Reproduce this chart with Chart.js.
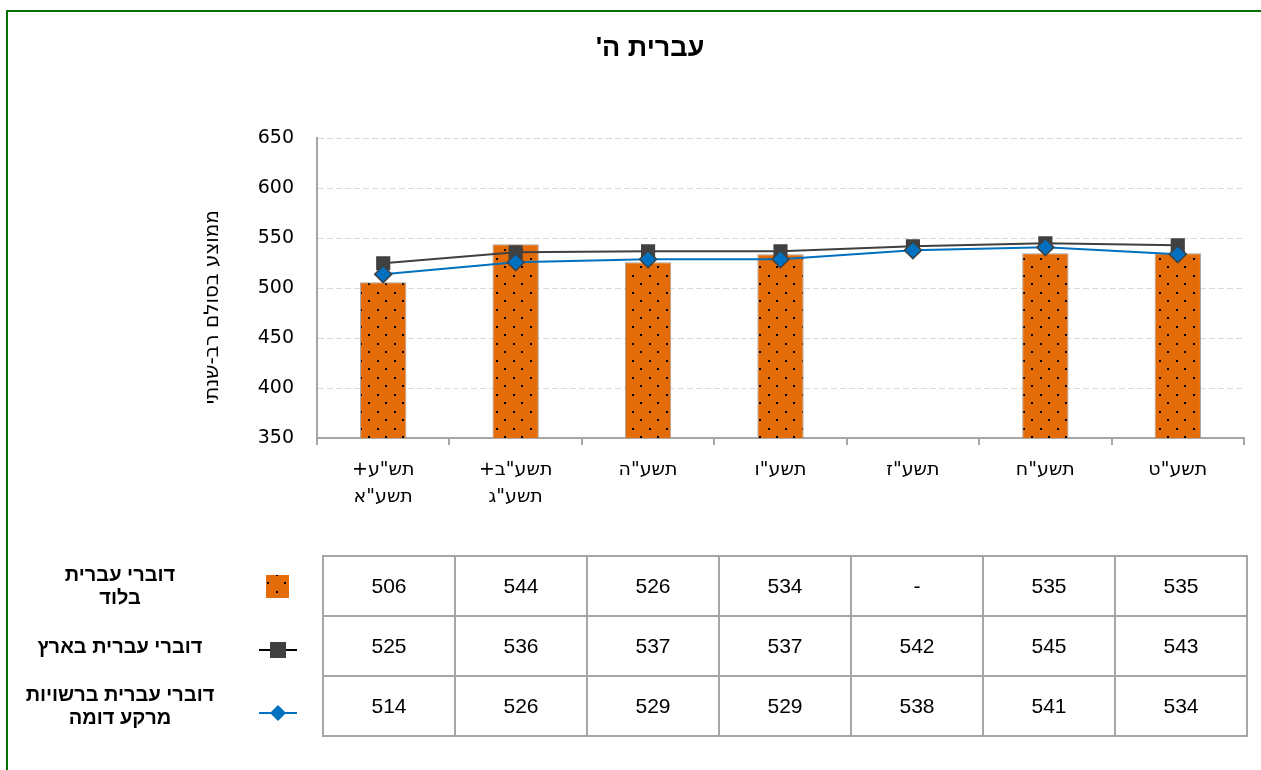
<!DOCTYPE html>
<html lang="he">
<head>
<meta charset="utf-8">
<script src="https://cdn.jsdelivr.net/npm/chart.js@4.4.1/dist/chart.umd.min.js"></script>
<style>
  html, body { margin: 0; padding: 0; background: #fff; }
  body { width: 1261px; height: 770px; overflow: hidden; position: relative; font-family: "Liberation Sans", Arial, sans-serif; }
  #chart { position: absolute; left: 0; top: 0; direction: rtl; }
  #frame { position: absolute; left: 6px; top: 10px; width: 1300px; height: 800px; border-left: 2px solid #007000; border-top: 2px solid #007000; pointer-events: none; }
  #dataTable { position: absolute; left: 322px; top: 555px; width: 926px; border-collapse: collapse; table-layout: fixed; }
  #dataTable td { height: 58px; border: 2px solid #a6a6a6; text-align: center; vertical-align: middle; font-size: 21px; padding: 0; color: #000; }
  .legendRow { position: absolute; left: 0; width: 240px; height: 60px; display: flex; align-items: center; justify-content: center; text-align: center; direction: rtl; font-weight: bold; font-size: 20px; line-height: 23px; color: #000; }
  .legendIcon { position: absolute; }
</style>
</head>
<body>
<canvas id="chart" width="1261" height="770"></canvas>
<div id="frame"></div>
<table id="dataTable"></table>
<div id="legend"></div>
<script>
// ─── DATA ────────────────────────────────────────────────────────────────
const chartTitle = "עברית ה'";
const yAxisTitle = "ממוצע בסולם רב-שנתי";
const categories = [['תש"ע+', 'תשע"א'], ['תשע"ב+', 'תשע"ג'], 'תשע"ה', 'תשע"ו', 'תשע"ז', 'תשע"ח', 'תשע"ט'];
const lodValues      = [506, 544, 526, 534, null, 535, 535];
const nationalValues = [525, 536, 537, 537, 542, 545, 543];
const similarValues  = [514, 526, 529, 529, 538, 541, 534];
const seriesLabels = [['דוברי עברית', 'בלוד'], ['דוברי עברית בארץ'], ['דוברי עברית ברשויות', 'מרקע דומה']];
const yMin = 350, yMax = 650, yStep = 50;

const ORANGE = "#e36c09";
const DARK   = "#404040";
const BLUE   = "#0070c0";

// ─── DOT PATTERN FOR BARS ────────────────────────────────────────────────
function makeDotTile() {
  const c = document.createElement("canvas");
  c.width = 17; c.height = 17;
  const g = c.getContext("2d");
  g.fillStyle = ORANGE; g.fillRect(0, 0, 17, 17);
  g.fillStyle = "#000";
  g.fillRect(3, 3, 2, 2);
  g.fillRect(11, 11, 2, 2);
  return c;
}
const canvas = document.getElementById("chart");
const ctx = canvas.getContext("2d");
const dotPattern = ctx.createPattern(makeDotTile(), "repeat");

// ─── Y TITLE (custom placement) ─────────────────────────────────────────
const yTitlePlugin = {
  id: "yTitle",
  afterDraw(chart) {
    const c = chart.ctx;
    const mid = (chart.chartArea.top + chart.chartArea.bottom) / 2;
    c.save();
    c.translate(213, mid + 19);
    c.rotate(-Math.PI / 2);
    c.font = '20px "DejaVu Sans"';
    c.fillStyle = "#000";
    c.textAlign = "center";
    c.textBaseline = "middle";
    c.fillText(yAxisTitle, 0, 0);
    c.restore();
  }
};

const axisFont = { family: '"DejaVu Sans", Verdana, sans-serif', size: 19 };

new Chart(canvas, {
  data: {
    labels: categories,
    datasets: [
      {
        type: "bar",
        label: seriesLabels[0].join(" "),
        data: lodValues,
        backgroundColor: dotPattern,
        borderColor: "#a0a0a0",
        borderWidth: 1,
        barPercentage: 0.35,
        categoryPercentage: 1,
        order: 3
      },
      {
        type: "line",
        label: seriesLabels[1].join(" "),
        data: nationalValues,
        borderColor: DARK,
        borderWidth: 2,
        tension: 0,
        pointStyle: "rect",
        pointRadius: 10,
        pointBackgroundColor: DARK,
        pointBorderColor: DARK,
        pointBorderWidth: 0,
        order: 2
      },
      {
        type: "line",
        label: seriesLabels[2].join(" "),
        data: similarValues,
        borderColor: BLUE,
        borderWidth: 2,
        tension: 0,
        pointStyle: "rectRot",
        pointRadius: 8.5,
        pointBackgroundColor: BLUE,
        pointBorderColor: DARK,
        pointBorderWidth: 1.5,
        order: 1
      }
    ]
  },
  options: {
    responsive: false,
    animation: false,
    devicePixelRatio: 1,
    layout: { padding: { left: 56, right: 17, top: 0, bottom: 232 } },
    plugins: {
      legend: { display: false },
      tooltip: { enabled: false },
      title: {
        display: true,
        text: chartTitle,
        color: "#000",
        font: { family: '"Liberation Sans", Arial, sans-serif', size: 27, weight: "bold" },
        padding: { top: 32, bottom: 74 }
      }
    },
    scales: {
      x: {
        offset: true,
        grid: { offset: true, drawOnChartArea: false, drawTicks: true, tickLength: 7, color: "#a6a6a6", lineWidth: 2 },
        border: { color: "#a6a6a6", width: 2 },
        ticks: { color: "#000", font: { ...axisFont, lineHeight: 1.45 }, padding: 11, maxRotation: 0, autoSkip: false },
        afterFit: s => { s.height = 100; }
      },
      y: {
        min: yMin,
        max: yMax,
        ticks: { stepSize: yStep, color: "#000", font: axisFont, padding: 23 },
        grid: { color: "#d9d9d9", lineWidth: 1, drawTicks: false },
        border: { color: "#a6a6a6", width: 2, dash: [6, 3] },
        afterFit: s => { s.width = 261; }
      }
    }
  },
  plugins: [yTitlePlugin]
});

// ─── DATA TABLE ──────────────────────────────────────────────────────────
const tableRows = [lodValues, nationalValues, similarValues];
const table = document.getElementById("dataTable");
tableRows.forEach(row => {
  const tr = document.createElement("tr");
  row.forEach(v => {
    const td = document.createElement("td");
    td.textContent = v === null ? "-" : v;
    tr.appendChild(td);
  });
  table.appendChild(tr);
});

// ─── TABLE LEGEND ────────────────────────────────────────────────────────
const legend = document.getElementById("legend");
const rowTops = [556, 616, 676];
seriesLabels.forEach((lines, i) => {
  const d = document.createElement("div");
  d.className = "legendRow";
  d.style.top = rowTops[i] + "px";
  d.innerHTML = lines.join("<br>");
  legend.appendChild(d);

  const ic = document.createElement("canvas");
  ic.className = "legendIcon";
  ic.width = 44; ic.height = 30;
  ic.style.left = "256px";
  ic.style.top = (rowTops[i] + (i === 0 ? 15 : i === 1 ? 19 : 22)) + "px";
  const g = ic.getContext("2d");
  if (i === 0) {
    g.fillStyle = g.createPattern(makeDotTile(), "repeat");
    g.fillRect(10, 4, 23, 23);
  } else {
    g.strokeStyle = i === 1 ? "#000" : BLUE;
    g.lineWidth = 2;
    g.beginPath(); g.moveTo(3, 15); g.lineTo(41, 15); g.stroke();
    if (i === 1) {
      g.fillStyle = DARK;
      g.fillRect(14, 7, 16, 16);
    } else {
      g.fillStyle = BLUE;
      g.beginPath();
      g.moveTo(22, 7); g.lineTo(30, 15); g.lineTo(22, 23); g.lineTo(14, 15);
      g.closePath(); g.fill();
    }
  }
  legend.appendChild(ic);
});
</script>
</body>
</html>
